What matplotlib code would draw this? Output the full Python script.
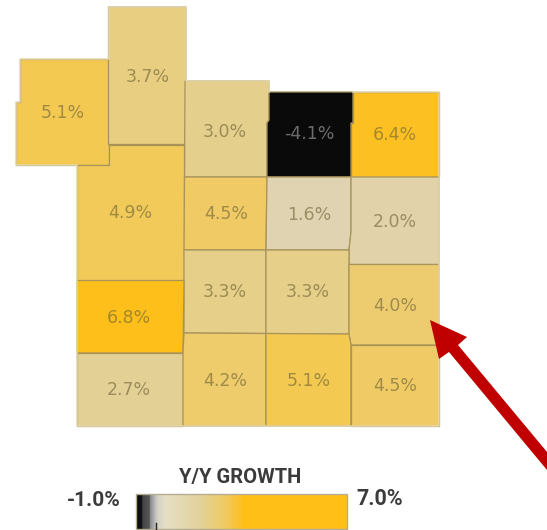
import numpy as np
import matplotlib
matplotlib.use("Agg")
import matplotlib.pyplot as plt
from matplotlib.colors import LinearSegmentedColormap, Normalize
from matplotlib.patches import Polygon, Rectangle

## Growth per county
#
growth = [5.1, 3.7, 3.0, -4.1, 6.4,
          4.9, 4.5, 1.6, 2.0,
          3.3, 3.3, 4.0,
          6.8, 2.7, 4.2, 5.1, 4.5]

legend_min = -1.0
legend_max = 7.0
legend_title = "Y/Y GROWTH"

## County outlines in image pixels, same order as growth
#
outlines = [
    [(20, 59), (108.5, 59), (108.5, 164.5), (16, 164.5), (16, 102), (20, 102)],
    [(108.5, 7), (186, 7), (186, 120), (184.5, 144.5), (108.5, 144.5)],
    [(185, 81), (269, 81), (269, 120), (267, 123), (267, 177), (184.5, 177)],
    [(269, 92), (353, 92), (353, 123), (351, 123), (351, 177), (267, 177), (267, 123), (269, 120)],
    [(353, 92), (439, 92), (439, 177), (351, 177), (351, 123), (353, 123)],
    [(108.5, 144.5), (184, 144.5), (184, 280.5), (77, 280.5), (77, 164.5), (108.5, 164.5)],
    [(184.5, 177), (267, 177), (266, 250), (184, 250)],
    [(267, 177), (351, 177), (351, 232), (349, 250), (266, 250)],
    [(351, 177), (439, 177), (439, 264.5), (349, 264.5), (349, 250), (351, 232)],
    [(184, 250), (266, 250), (266, 333.5), (184, 333)],
    [(266, 250), (349, 250), (349, 334), (266, 333.5)],
    [(349, 264.5), (439, 264.5), (439, 345), (351, 345), (349, 334)],
    [(77, 280.5), (184, 280.5), (183, 353), (77, 353)],
    [(77, 353), (183, 353), (183, 426), (77, 426)],
    [(184, 333), (266, 333.5), (266, 426), (183, 426), (183, 353)],
    [(266, 333.5), (349, 334), (351, 345), (351, 426), (266, 426)],
    [(351, 345), (439, 345), (439, 426), (351, 426)],
]

## State border is paler than the county lines, black county keeps its own top edge
#
border = [(353, 92), (439, 92), (439, 426), (77, 426), (77, 164.5), (16, 164.5),
          (16, 102), (20, 102), (20, 59), (108.5, 59), (108.5, 7), (186, 7),
          (186, 81), (269, 81), (269, 92)]

label_pos = [(63, 113), (148, 77), (225, 132), (309, 134), (395, 135),
             (130, 213), (226, 214), (309, 215), (395, 222),
             (225, 292), (308, 292), (395, 306),
             (129, 318), (129, 390), (225, 381), (309, 381), (395, 386)]

## Map colour ramp, fitted to the county fills
#
map_cmap = LinearSegmentedColormap.from_list("map", [
    (0.0, "#0a0a0a"), (0.02, "#555555"), (0.125, "#dedad0"),
    (0.33, "#e0d3b0"), (0.375, "#e1d2a9"), (0.46, "#e3d096"),
    (0.5, "#e5cf8d"), (0.6, "#e8ce7f"), (0.625, "#edcc70"),
    (0.69, "#f0ca64"), (0.74, "#f2ca58"), (0.76, "#f3c952"),
    (0.925, "#fdc022"), (1.0, "#ffbf17")])
norm = Normalize(legend_min, legend_max)

## Colour legend has hard steps at the dark end
#
legend_cmap = LinearSegmentedColormap.from_list("legend", [
    (0.0, "#0a0a0a"), (0.025, "#111111"), (0.03, "#444444"),
    (0.062, "#555555"), (0.066, "#8a8a8a"), (0.09, "#bdbdbd"),
    (0.1, "#d4d0c6"), (0.14, "#e6dfc4"), (0.3, "#e2d29c"),
    (0.43, "#f1ca5e"), (0.51, "#ffbf17"), (1.0, "#ffbf17")])

fig = plt.figure(figsize=(5.47, 5.30), dpi=100, facecolor="white")
ax = fig.add_axes([0, 0, 1, 1])
ax.set_xlim(0, 547)
ax.set_ylim(530, 0)
ax.axis("off")

for val, outline, pos in zip(growth, outlines, label_pos):
    ax.add_patch(Polygon(outline, closed=True, facecolor=map_cmap(norm(val)),
                         edgecolor="#a8935a", linewidth=0.9, joinstyle="round"))
    txt_color = "#777777" if val < 0 else "#6e6436"
    ax.text(pos[0], pos[1], "%.1f%%" % val, ha="center", va="center",
            fontsize=12.5, color=txt_color, alpha=0.62 if val >= 0 else 0.9,
            family="DejaVu Sans", zorder=3)

bx, by = zip(*border)
ax.plot(bx, by, color="#e6d9ac", linewidth=1.1, zorder=2)

## Legend
#
ramp = np.linspace(0, 1, 256).reshape(1, -1)
ax.imshow(ramp, cmap=legend_cmap, extent=(136, 347, 529, 494), aspect="auto", zorder=2)
ax.set_xlim(0, 547)
ax.set_ylim(530, 0)
ax.add_patch(Rectangle((136, 494), 211, 35, fill=False, edgecolor="#b5ac94", linewidth=1, zorder=3))
ax.plot([155.5, 155.5], [523, 530], color="#222222", linewidth=1, zorder=4)
ax.text(240, 477, legend_title, ha="center", va="center", fontsize=14.5,
        fontweight="bold", color="#3b3b3b", family="Roboto", stretch="condensed")
ax.text(120.5, 500, "%.1f%%" % legend_min, ha="right", va="center", fontsize=15,
        fontweight="bold", color="#3b3b3b", family="Roboto")
ax.text(356, 499, "%.1f%%" % legend_max, ha="left", va="center", fontsize=15.5,
        fontweight="bold", color="#3b3b3b", family="Roboto")

## Red callout arrow
#
ax.add_patch(Polygon([(430, 320), (467, 337), (458, 345), (547, 452), (547, 470),
                      (449, 352), (439, 359)],
                     closed=True, facecolor="#c00000", edgecolor="none", zorder=5))

fig.savefig("out.png", dpi=100, facecolor="white")
